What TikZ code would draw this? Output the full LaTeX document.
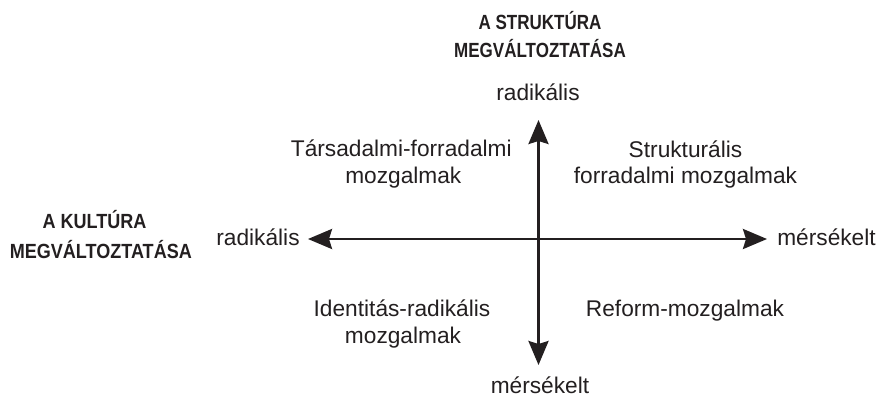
\documentclass[tikz,border=0pt]{standalone}
\usepackage{fontspec}
\setmainfont{Liberation Sans}
\newfontfamily\titlefontA[FakeStretch=0.88]{Liberation Sans}
\newfontfamily\titlefontB[FakeStretch=0.83]{Liberation Sans}
\usetikzlibrary{arrows.meta}
\definecolor{ink}{HTML}{231F20}
\begin{document}
\begin{tikzpicture}[x=1pt,y=-1pt,
  lbl/.style={inner sep=0pt, anchor=base, text=ink, font=\fontsize{22.7}{27}\selectfont},
  ttlA/.style={inner sep=0pt, anchor=base, text=ink, font=\titlefontA\bfseries\fontsize{20.5}{30}\selectfont},
  ttlB/.style={inner sep=0pt, anchor=base, text=ink, font=\titlefontB\bfseries\fontsize{20.5}{30}\selectfont},
  axis/.style={draw=ink, line width=2.7pt, >={Stealth[length=24pt,width=20pt,inset=3pt]}, <->}]
\useasboundingbox (0,0) rectangle (876,397);
% axis end points
\coordinate (L) at (308,239);
\coordinate (R) at (767,239);
\coordinate (T) at (538.5,120);
\coordinate (B) at (538.5,365);
\draw[axis] (L) -- (R);
\draw[axis] (B) -- (T);
% titles
\node[ttlB] (st1) at (540,29) {A STRUKTÚRA};
\node[ttlB] (st2) at (540,57.3) {MEGVÁLTOZTATÁSA};
\node[ttlA] (ku1) at (94.5,228) {A KULTÚRA};
\node[ttlA] (ku2) at (100.8,258.3) {MEGVÁLTOZTATÁSA};
% axis labels
\node[lbl] (top) at (538,100) {radikális};
\node[lbl] (bot) at (540,393) {mérsékelt};
\node[lbl] (left) at (258,245.5) {radikális};
\node[lbl] (right) at (826.5,245.5) {mérsékelt};
% quadrant labels
\node[lbl] (q1a) at (401.3,156.7) {Társadalmi-forradalmi};
\node[lbl] (q1b) at (403.3,183.3) {mozgalmak};
\node[lbl] (q2a) at (685.5,157.3) {Strukturális};
\node[lbl] (q2b) at (685.5,183.3) {forradalmi mozgalmak};
\node[lbl] (q3a) at (402,316.7) {Identitás-radikális};
\node[lbl] (q3b) at (403,343.3) {mozgalmak};
\node[lbl] (q4) at (685,316) {Reform-mozgalmak};
\end{tikzpicture}
\end{document}
